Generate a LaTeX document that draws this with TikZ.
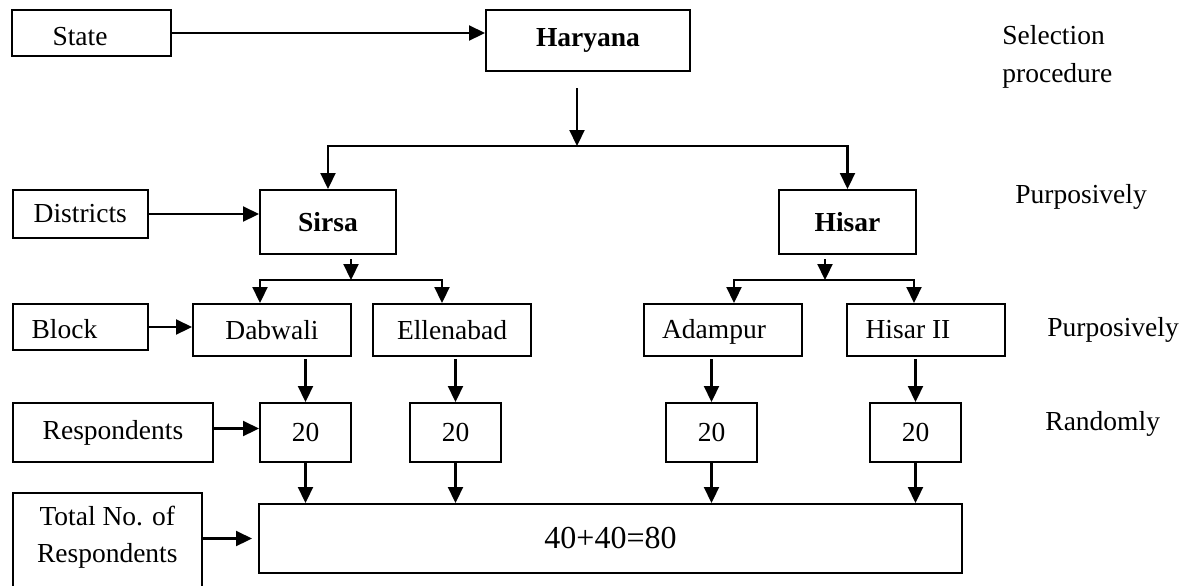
\documentclass[tikz,border=0pt]{standalone}
\usepackage{fontspec}
\setmainfont{Liberation Serif}
\usetikzlibrary{arrows.meta,calc}
\begin{document}
\begin{tikzpicture}[x=0.5pt,y=-0.5pt,
  font=\fontsize{13.75}{16}\selectfont,
  box/.style={draw, line width=1pt, inner sep=0pt},
  lbl/.style={inner sep=0pt, anchor=base west},
  txt/.style={inner sep=0pt, anchor=base},
  arr/.style={line width=1.1pt, -{Triangle[length=8pt,width=7.5pt]}}]
\useasboundingbox (0,0) rectangle (1194,585);
\clip (0,0) rectangle (1194,585);
% boxes
\node[box, minimum width=79.5pt, minimum height=23pt] (state) at (91.5,33) {};
\node[txt] (stateT) at (80,45) {State};
\node[box, minimum width=102pt, minimum height=30.5pt] (haryana) at (588,40.5) {\textbf{Haryana}};
\node[box, minimum width=67.7pt, minimum height=24pt] (districts) at (80.3,214) {Districts};
\node[box, minimum width=68pt, minimum height=32pt] (sirsa) at (328,222) {\textbf{Sirsa}};
\node[box, minimum width=68.5pt, minimum height=32pt] (hisar) at (847.5,222) {\textbf{Hisar}};
\node[box, minimum width=67.7pt, minimum height=23pt] (block) at (80.3,327) {};
\node[txt] (blockT) at (64.5,338) {Block};
\node[box, minimum width=79pt, minimum height=26pt] (dabwali) at (272,330) {Dabwali};
\node[box, minimum width=79pt, minimum height=26pt] (ellenabad) at (452,330) {Ellenabad};
\node[box, minimum width=79pt, minimum height=26pt] (adampur) at (723,330) {};
\node[txt] (adampurT) at (714,338) {Adampur};
\node[box, minimum width=79pt, minimum height=26pt] (hisar2) at (926,330) {};
\node[txt] (hisar2T) at (908,338) {Hisar II};
\node[box, minimum width=100.2pt, minimum height=29.5pt] (resp) at (113,432.5) {Respondents};
\node[box, minimum width=45.5pt, minimum height=29.5pt] (n1) at (305.5,432.5) {20};
\node[box, minimum width=45.5pt, minimum height=29.5pt] (n2) at (455.5,432.5) {20};
\node[box, minimum width=45.5pt, minimum height=29.5pt] (n3) at (711.5,432.5) {20};
\node[box, minimum width=45.5pt, minimum height=29.5pt] (n4) at (915.5,432.5) {20};
\node[box, minimum width=94.7pt, minimum height=58.5pt] (total) at (107.3,551.5) {};
\node[inner sep=0pt, align=center, font=\fontsize{13.75}{18.5}\selectfont] (totalT) at (107.3,537.5) {Total No. of\\Respondents};
\node[box, minimum width=351.5pt, minimum height=34.5pt, font=\fontsize{16}{19}\selectfont] (big) at (610.5,538.5) {40+40=80};
% right-hand labels
\node[lbl] (selT) at (1002,44) {Selection};
\node[lbl] (procT) at (1002,82) {procedure};
\node[lbl] (purp1) at (1015,203) {Purposively};
\node[lbl] (purp2) at (1047,336) {Purposively};
\node[lbl] (rand) at (1045,430) {Randomly};
% junctions
\coordinate (hj) at (577,146);
\coordinate (sj) at (351,280);
\coordinate (hj2) at (825,280);
% connectors
\draw[arr] (state.east) -- (state.east -| haryana.west);
\draw[arr] ($(haryana.south -| hj)+(0,16)$) -- (hj);
\draw[arr] (hj) -| (sirsa.north);
\draw[arr] (hj) -| (hisar.north);
\draw[arr] (districts.east) -- (districts.east -| sirsa.west);
\draw[arr] ($(sirsa.south -| sj)+(0,4)$) -- (sj);
\draw[arr] (sj) -| ($(dabwali.north)+(-12,0)$);
\draw[arr] (sj) -| ($(ellenabad.north)+(-10,0)$);
\draw[arr] ($(hisar.south -| hj2)+(0,4)$) -- (hj2);
\draw[arr] (hj2) -| ($(adampur.north)+(11,0)$);
\draw[arr] (hj2) -| ($(hisar2.north)+(-12,0)$);
\draw[arr] (block.east) -- (block.east -| dabwali.west);
\draw[arr] ($(dabwali.south -| n1)+(0,2)$) -- (n1.north);
\draw[arr] ($(ellenabad.south -| n2)+(0,2)$) -- (n2.north);
\draw[arr] ($(adampur.south -| n3)+(0,2)$) -- (n3.north);
\draw[arr] ($(hisar2.south -| n4)+(0,2)$) -- (n4.north);
\draw[arr] ($(resp.east)+(0,-4)$) -- ($(resp.east -| n1.west)+(0,-4)$);
\draw[arr] (n1.south) -- (n1.south |- big.north);
\draw[arr] (n2.south) -- (n2.south |- big.north);
\draw[arr] (n3.south) -- (n3.south |- big.north);
\draw[arr] (n4.south) -- (n4.south |- big.north);
\draw[arr] (total.east |- big.west) -- ($(big.west)+(-6,0)$);
\end{tikzpicture}
\end{document}
